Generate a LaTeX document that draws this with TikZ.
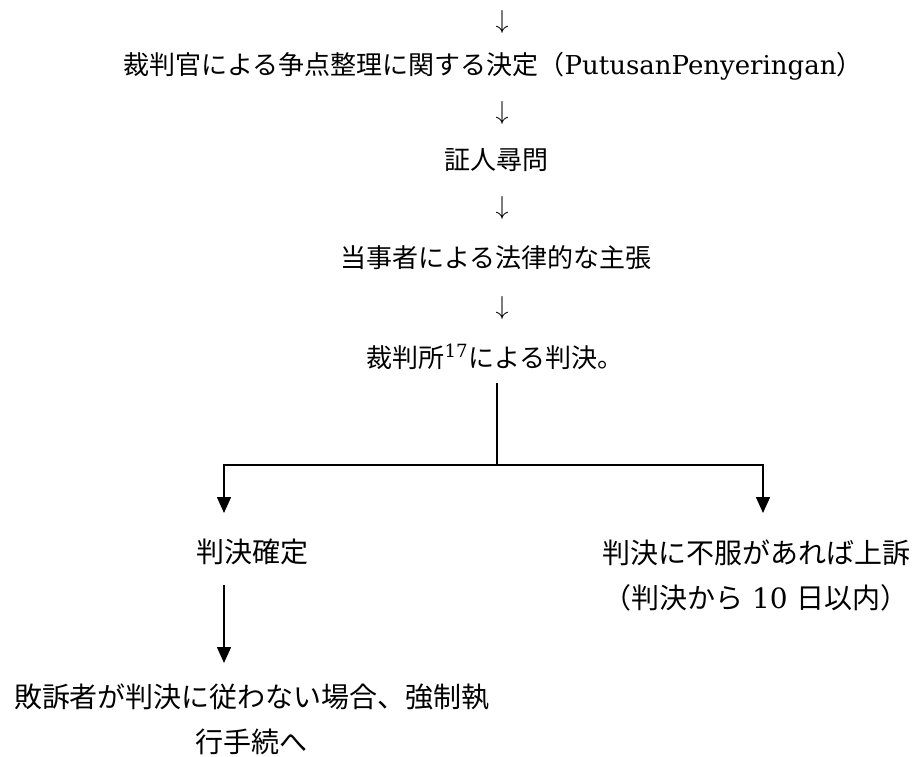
\documentclass[tikz,border=0pt]{standalone}
\usepackage{fix-cm}
\usepackage{fontspec}
\setmainfont{DejaVu Serif}
\newfontfamily\cjk{Noto Sans CJK JP}
\usetikzlibrary{arrows.meta}
\begin{document}
\begin{tikzpicture}[x=1pt,y=-1pt,
  up/.style={font=\fontsize{26}{30}\selectfont, inner sep=0pt},
  low/.style={font=\fontsize{28}{45}\selectfont, inner sep=0pt, align=center},
  darr/.style={font=\fontsize{26}{26}\selectfont, inner sep=0pt},
  line/.style={line width=1.6pt},
  arr/.style={line width=1.6pt, -{Triangle[length=16pt,width=14pt]}}]
\useasboundingbox (0,0) rectangle (914,756);
\fill[white] (0,0) rectangle (914,756);

\node[darr] (a1) at (502,22) {$\downarrow$};
\node[up] (t1) at (493,66) {{\cjk 裁判官による争点整理に関する決定（}PutusanPenyeringan{\cjk ）}};
\node[darr] (a2) at (502,113) {$\downarrow$};
\node[up] (t2) at (496,160) {\cjk 証人尋問};
\node[darr] (a3) at (502,208) {$\downarrow$};
\node[up] (t3) at (496,258) {\cjk 当事者による法律的な主張};
\node[darr] (a4) at (502,308) {$\downarrow$};
\node[up] (t4) at (495,357) {{\cjk 裁判所}\textsuperscript{17}{\cjk による判決。}};

\node[low] (fin) at (252,552) {\cjk 判決確定};
\node[low] (app) at (756,575) {{\cjk 判決に不服があれば上訴}\\{\cjk （判決から} 10 {\cjk 日以内）}};
\node[low] (exe) at (252,719) {\cjk 敗訴者が判決に従わない場合、強制執\\\cjk 行手続へ};

\coordinate (top) at (497,383);
\coordinate (split) at (497,465);
\coordinate (tipL) at (224,513);
\coordinate (tipR) at (763,513);
\coordinate (startB) at (224,585);
\coordinate (tipB) at (224,663);

\draw[line] (top) -- (split);
\draw[arr] (split) -| (tipL);
\draw[arr] (split) -| (tipR);
\draw[arr] (startB) -- (tipB);
\end{tikzpicture}
\end{document}
